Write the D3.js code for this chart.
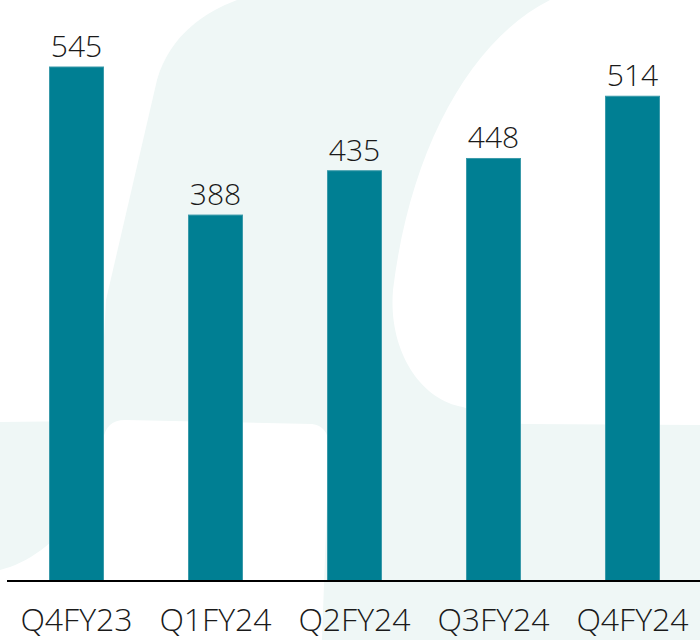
<!DOCTYPE html>
<html>
<head>
<meta charset="utf-8">
<script src="https://cdn.jsdelivr.net/npm/d3@7"></script>
<style>
  body { margin: 0; background: #fff; }
  svg { display: block; }
</style>
</head>
<body>
<div id="bar-chart"></div>
<script>
const quarters = ["Q4FY23", "Q1FY24", "Q2FY24", "Q3FY24", "Q4FY24"];
const values = [545, 388, 435, 448, 514];

const drawBarChart = () => {
    const width = 700;
    const height = 640;
    const baseline = 581;

    const teal = "#007f93";
    const light = "#eff7f6";
    const font = "'Open Sans', 'DejaVu Sans', sans-serif";

    const svg = d3.select("#bar-chart")
        .append("svg")
        .attr("width", width)
        .attr("height", height);

    // decorative background: light fill with white blobs cut over it
    svg.append("rect")
        .attr("width", width)
        .attr("height", height)
        .attr("fill", light);

    const blobs = [
        // top left
        "M0,0 L237,0 C205,12 170,35 157,80 L106,300 L100,415 Q98,421 90,421 L0,422 Z",
        // bottom left
        "M0,570 C40,560 90,520 103,440 Q106,420 125,420 L312,424 Q328,426 329,445 L322,640 L0,640 Z",
        // right
        "M550,0 C470,40 410,150 393,290 C388,350 420,400 463,407 C480,415 500,423 525,424 L700,425 L700,0 Z"
    ];
    svg.selectAll(".blob")
        .data(blobs)
        .join("path")
            .attr("class", "blob")
            .attr("d", d => d)
            .attr("fill", "#fff");

    const xScale = d3.scaleBand()
        .domain(quarters)
        .range([7, 702])
        .paddingInner(0.6115)
        .paddingOuter(0.3058);

    const yScale = d3.scaleLinear()
        .domain([0, 545])
        .range([baseline, 67]);

    const data = quarters.map((q, i) => ({ quarter: q, value: values[i] }));

    // bars
    svg.selectAll(".bar")
        .data(data)
        .join("rect")
            .attr("class", "bar")
            .attr("x", d => xScale(d.quarter))
            .attr("y", d => yScale(d.value))
            .attr("width", xScale.bandwidth())
            .attr("height", d => baseline - yScale(d.value))
            .attr("fill", teal)
            .attr("stroke", "#3a9aaa")
            .attr("stroke-width", 1);

    // value labels
    svg.selectAll(".value")
        .data(data)
        .join("text")
            .attr("class", "value")
            .attr("x", d => xScale(d.quarter) + xScale.bandwidth() / 2)
            .attr("y", d => yScale(d.value) - 10)
            .attr("text-anchor", "middle")
            .attr("font-family", font)
            .attr("font-weight", 300)
            .attr("font-size", 30)
            .attr("fill", "#1a1a1a")
            .text(d => d.value);

    // x axis
    const bottomAxis = d3.axisBottom(xScale).tickSize(0).tickPadding(0);
    const axis = svg.append("g")
        .attr("transform", `translate(0,${baseline})`)
        .call(bottomAxis);
    axis.select(".domain")
        .attr("d", "M7,0H700")
        .attr("stroke", "#000")
        .attr("stroke-width", 2);
    axis.selectAll(".tick text")
        .attr("y", 50)
        .attr("dy", 0)
        .attr("font-family", font)
        .attr("font-weight", 300)
        .attr("font-size", 32)
        .attr("fill", "#1a1a1a");
};

drawBarChart();
</script>
</body>
</html>
